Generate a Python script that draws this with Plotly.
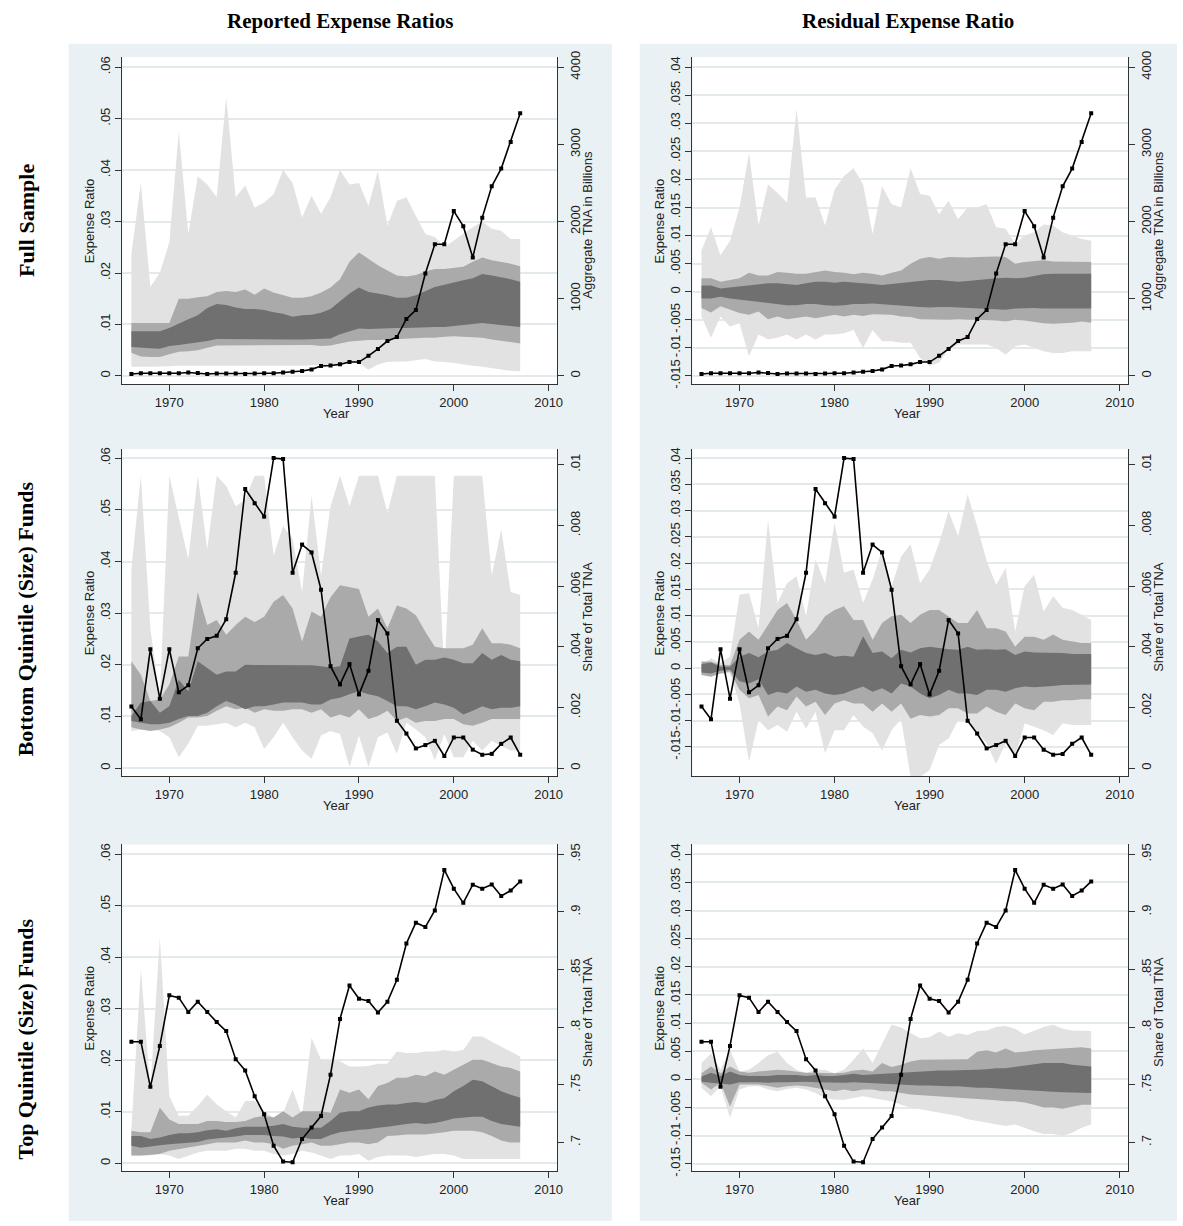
import plotly.graph_objects as go

years = list(range(1966, 2008))

# ---------------- Full sample ----------------
tna_billions = [25, 35, 35, 35, 35, 35, 45, 38, 25, 32, 32, 32, 25, 32, 35, 35, 45, 55, 65,
                85, 128, 136, 150, 180, 180, 260, 350, 452, 503, 738, 853, 1326, 1706, 1706,
                2136, 1940, 1535, 2051, 2456, 2686, 3032, 3403]

full_rep_light_hi = [.0237, .0375, .0173, .020, .026, .0475, .0276, .0388, .0372, .0347,
                     .0542, .0347, .037, .0327, .0337, .0353, .040, .0375, .0308, .035,
                     .0315, .0347, .040, .0372, .0375, .033, .0398, .0292, .034, .0347,
                     .0311, .0276, .027, .025, .0263, .0276, .0289, .030, .0286, .0282,
                     .0266, .0266]
full_rep_light_lo = [.0018, .0018, .0018, .0018, .0019, .002, .002, .002, .0021, .0021,
                     .0021, .0021, .0021, .002, .002, .002, .002, .002, .002, .002,
                     .0021, .0022, .0023, .0025, .0025, .0012, .0022, .0027, .0028, .0028,
                     .003, .0033, .0028, .0027, .0025, .0023, .002, .0018, .0015, .0013,
                     .001, .0009]
full_rep_mid_hi = [.0103, .0103, .0103, .0103, .0103, .015, .015, .0153, .0155, .0163,
                   .0165, .0163, .0168, .0158, .017, .0162, .0157, .0152, .0152, .0155,
                   .0162, .0172, .0188, .0222, .024, .0228, .0215, .0205, .0195, .0193,
                   .0196, .0203, .0208, .0208, .021, .0212, .0222, .023, .0225, .0222,
                   .0218, .0213]
full_rep_mid_lo = [.0045, .0038, .0037, .0037, .0042, .0047, .0048, .005, .0055, .0059,
                   .006, .006, .006, .006, .006, .006, .006, .006, .006, .006,
                   .0058, .0059, .0063, .0067, .0069, .007, .007, .0071, .0072, .0073,
                   .0073, .0074, .0074, .0076, .0077, .0076, .0075, .0074, .0071, .0068,
                   .0066, .0063]
full_rep_dark_hi = [.0087, .0087, .0087, .0087, .0093, .0102, .011, .0118, .0132, .014,
                    .0138, .0133, .013, .013, .0128, .0124, .0121, .0115, .0118, .0119,
                    .0123, .013, .0145, .016, .0172, .0163, .016, .0157, .0152, .0152,
                    .0157, .0165, .0173, .0177, .0182, .0186, .019, .0198, .0195, .0192,
                    .0188, .0183]
full_rep_dark_lo = [.0056, .0055, .0054, .0053, .0058, .006, .0062, .0065, .0068, .0072,
                    .0072, .0071, .0071, .0071, .0071, .0071, .0071, .0071, .0071, .0072,
                    .0072, .0073, .0081, .0087, .0092, .0091, .0091, .0092, .0093, .0093,
                    .0094, .0094, .0095, .0095, .0098, .0099, .0101, .0103, .0101, .0099,
                    .0097, .0095]

full_res_light_hi = [.0074, .0115, .0065, .0091, .015, .0247, .0118, .0191, .0176, .0159,
                     .0326, .0168, .0168, .0118, .0182, .0206, .022, .0191, .0103, .0188,
                     .0156, .015, .022, .0174, .0171, .0138, .0162, .0129, .015, .015,
                     .0156, .0115, .0112, .0085, .01, .0106, .012, .0118, .0106, .01,
                     .0094, .0091]
full_res_light_lo = [-.0044, -.0082, -.0044, -.0062, -.0056, -.0115, -.0076, -.0085, -.0082, -.0076,
                     -.0085, -.0076, -.0085, -.0076, -.0076, -.0074, -.0068, -.01, -.0068, -.0088,
                     -.0088, -.0091, -.0091, -.0118, -.0132, -.0126, -.0103, -.0094, -.0094, -.0094,
                     -.0094, -.01, -.0112, -.0097, -.0094, -.01, -.0106, -.0109, -.0109, -.0106,
                     -.0106, -.0106]
full_res_mid_hi = [.0024, .0024, .0018, .0021, .0024, .0034, .0029, .0029, .0035, .0034,
                   .0032, .0032, .0035, .0038, .0035, .0034, .0031, .0034, .0032, .0029,
                   .0034, .0038, .005, .0059, .0062, .0059, .0062, .0061, .0061, .0062,
                   .0063, .0063, .0062, .005, .0053, .0054, .0056, .0054, .0054, .0053,
                   .0053, .0053]
full_res_mid_lo = [-.0029, -.0037, -.0026, -.0032, -.0038, -.0041, -.0035, -.0049, -.0044, -.0049,
                   -.0047, -.0044, -.0047, -.0044, -.0041, -.0044, -.0041, -.0043, -.004, -.0041,
                   -.0041, -.0044, -.0045, -.0049, -.005, -.005, -.005, -.0049, -.005, -.005,
                   -.005, -.0051, -.0053, -.005, -.0051, -.0053, -.0056, -.0057, -.0056, -.0055,
                   -.0053, -.0055]
full_res_dark_hi = [.0011, .0011, .0006, .0008, .0009, .0011, .0014, .0015, .0015, .0014,
                    .0012, .0015, .0018, .0018, .0016, .0018, .0016, .0015, .0014, .0012,
                    .0014, .0016, .0018, .0019, .0021, .0021, .0019, .0018, .0019, .0021,
                    .0022, .0024, .0025, .0024, .0025, .0028, .0031, .0032, .0032, .0032,
                    .0032, .0032]
full_res_dark_lo = [-.0012, -.0012, -.0009, -.0012, -.0014, -.0016, -.0019, -.0021, -.0022, -.0024,
                    -.0024, -.0022, -.0022, -.0024, -.0025, -.0024, -.0022, -.0022, -.0021, -.0022,
                    -.0024, -.0025, -.0026, -.0027, -.0028, -.0027, -.0027, -.0028, -.0029, -.0029,
                    -.003, -.0031, -.0032, -.003, -.0029, -.0029, -.003, -.0031, -.0031, -.0031,
                    -.003, -.003]

# ---------------- Bottom quintile ----------------
share_bottom = [.00203, .00161, .00392, .00229, .00392, .0025, .00273, .00395, .00426, .00436,
                .00491, .00644, .0092, .00873, .00829, .01022, .01019, .00644, .00737, .00711,
                .00588, .00336, .00276, .00343, .00243, .00321, .00488, .00444, .00156, .00114,
                .00065, .00076, .0009, .0004, .00101, .00101, .00061, .00044, .00047, .0008,
                .00101, .00044]

bot_rep_light_hi = [.0386, .0566, .027, .0136, .0566, .0488, .0405, .0566, .0424, .0566,
                    .0546, .0507, .052, .0566, .0566, .0411, .0469, .0443, .0341, .0528,
                    .0373, .0507, .0566, .0507, .0566, .0566, .0566, .0494, .0566, .0566,
                    .0566, .0566, .0566, .0181, .0566, .0566, .0566, .0566, .0373, .0462,
                    .0341, .0335]
bot_rep_light_lo = [.0072, .0075, .0075, .0072, .006, .0021, .0047, .0082, .0082, .0085,
                    .0088, .0079, .0088, .0079, .0037, .006, .0088, .006, .0034, .0018,
                    .0063, .0072, .0066, .0002, .0063, .0002, .006, .0069, .0028, .0088,
                    .0075, .006, .0015, .0066, .0021, .0021, .0053, .0034, .0053, .0043,
                    .0034, .0034]
bot_rep_mid_hi = [.0207, .0181, .013, .0133, .0162, .0216, .0216, .0341, .0277, .0287,
                  .0258, .0277, .0293, .0283, .0293, .0322, .0335, .0309, .0245, .0303,
                  .0293, .0331, .0354, .0351, .0347, .0293, .0309, .0271, .0315, .0309,
                  .0296, .0264, .0235, .0232, .0232, .0232, .0239, .0271, .0242, .0242,
                  .0239, .0232]
bot_rep_mid_lo = [.0079, .0075, .0072, .0075, .0079, .0088, .0098, .0098, .0101, .0111,
                  .012, .0114, .0117, .0107, .0114, .0111, .0111, .0114, .0114, .0107,
                  .0114, .0098, .0104, .0098, .0114, .0095, .0101, .0111, .0091, .0098,
                  .0088, .0091, .0091, .0095, .0095, .0085, .0082, .0088, .0095, .0095,
                  .0095, .0095]
bot_rep_dark_hi = [.0101, .0127, .013, .0107, .012, .0171, .0149, .0207, .0194, .0181,
                   .0187, .0187, .02, .02, .02, .02, .02, .0199, .0199, .0199,
                   .0197, .0195, .0197, .0251, .0255, .0258, .0245, .0223, .0235, .0235,
                   .02, .021, .021, .0214, .021, .0203, .0203, .0223, .021, .0219,
                   .021, .0207]
bot_rep_dark_lo = [.0091, .0088, .0085, .0085, .0088, .0095, .0101, .0101, .0107, .012,
                   .013, .0123, .0114, .012, .012, .0123, .0127, .0127, .0127, .0123,
                   .0123, .0133, .0136, .0143, .0149, .0143, .0139, .013, .012, .012,
                   .0114, .012, .0127, .0123, .0117, .0104, .0111, .012, .0114, .0117,
                   .0117, .012]

bot_res_light_hi = [.0006, .0019, .001, .0022, .014, .0143, .0076, .0283, .0124, .0162,
                    .0175, .0099, .0207, .0162, .0277, .0182, .0188, .0124, .0169, .0226,
                    .0156, .0213, .0236, .0162, .0188, .0239, .0299, .0252, .0331, .0271,
                    .0204, .0159, .0191, .007, .0156, .0178, .0108, .0137, .0115, .0111,
                    .0102, .0092]
bot_res_light_lo = [-.001, -.001, -.001, -.001, -.0067, -.0178, -.0099, -.0118, -.0108, -.0121,
                    -.0083, -.0115, -.0083, -.0162, -.0118, -.0118, -.0089, -.0111, -.0124, -.0156,
                    -.0118, -.0096, -.0207, -.0207, -.0194, -.0146, -.0134, -.0099, -.0099, -.0121,
                    -.0143, -.0182, -.0143, -.0169, -.0105, -.0111, -.0118, -.0127, -.0105, -.0108,
                    -.0108, -.0108]
bot_res_mid_hi = [.0013, .0013, .0006, .0006, .0054, .007, .0054, .0083, .0111, .0124,
                  .0092, .0054, .0073, .0099, .0111, .0118, .0092, .0092, .0054, .0086,
                  .0099, .0102, .0086, .0102, .0111, .0111, .0099, .0086, .0086, .0111,
                  .0076, .0076, .007, .0041, .006, .006, .0054, .0064, .0054, .0051,
                  .0048, .0048]
bot_res_mid_lo = [-.0013, -.0016, -.001, -.0006, -.0041, -.0057, -.0051, -.0092, -.0073, -.008,
                  -.0054, -.0073, -.0064, -.0089, -.0067, -.0061, -.0067, -.0067, -.0083, -.0067,
                  -.0083, -.0067, -.0096, -.0089, -.0092, -.0089, -.0076, -.0076, -.0086, -.0086,
                  -.0073, -.0083, -.0089, -.0067, -.0076, -.008, -.0064, -.0064, -.0061, -.0061,
                  -.0059, -.0059]
bot_res_dark_hi = [.0008, .0011, .0003, .0003, .0022, .0029, .0021, .0032, .0035, .0048,
                   .0038, .0029, .0025, .0029, .0022, .0024, .0022, .0061, .0029, .0032,
                   .0019, .0035, .003, .0038, .0041, .0038, .0036, .0035, .0041, .0035,
                   .0036, .0035, .0036, .0025, .0032, .003, .003, .0029, .0029, .0027,
                   .0027, .0027]
bot_res_dark_lo = [-.0008, -.001, -.0005, -.0003, -.0025, -.0029, -.0021, -.0051, -.0045, -.0048,
                   -.0035, -.0045, -.0041, -.0048, -.0051, -.0048, -.0041, -.0035, -.0045, -.0038,
                   -.0048, -.0029, -.0035, -.0048, -.0057, -.0051, -.0041, -.0048, -.0048, -.0051,
                   -.0041, -.0041, -.0045, -.0038, -.0035, -.0036, -.0035, -.0034, -.0032, -.0032,
                   -.0031, -.0031]

# ---------------- Top quintile ----------------
share_top = [.7874, .7874, .7482, .7837, .8276, .8256, .8132, .8221, .8132, .8044,
             .7966, .7722, .7625, .7401, .7244, .6971, .6834, .6828, .7029, .7129,
             .7229, .7588, .8072, .8362, .8247, .8227, .8127, .8221, .8411, .8726,
             .8907, .8869, .9013, .9365, .9202, .9079, .9236, .9202, .9239, .9139,
             .9185, .9265]

top_rep_light_hi = [.0066, .0377, .0143, .0438, .013, .0092, .0092, .0111, .0133, .0114,
                    .0101, .0089, .0121, .0121, .0101, .0089, .0098, .0143, .0092, .0243,
                    .0201, .0201, .0198, .0188, .0188, .0189, .0193, .0193, .0217, .0214,
                    .0214, .0217, .0217, .022, .0217, .022, .0246, .0246, .0236, .0227,
                    .0217, .0207]
top_rep_light_lo = [.0015, .0015, .0015, .0018, .0015, .0008, .0015, .0021, .0024, .0024,
                    .0024, .0028, .0028, .0024, .0024, .0018, .0015, .0018, .0024, .0021,
                    .0015, .0008, .0015, .0015, .0018, .0005, .0012, .0015, .0015, .0015,
                    .0012, .0015, .0018, .0018, .0015, .0008, .0008, .0008, .0008, .0008,
                    .0008, .0008]
top_rep_mid_hi = [.0063, .006, .006, .0108, .0085, .0076, .0076, .0076, .0082, .0082,
                  .008, .008, .0082, .0089, .0092, .0089, .0101, .0089, .0101, .0101,
                  .0101, .0098, .0143, .0137, .0143, .0124, .015, .0156, .0166, .0166,
                  .0172, .0169, .0178, .0172, .0182, .0191, .0201, .0201, .0194, .0188,
                  .0185, .0178]
top_rep_mid_lo = [.0015, .0015, .0016, .0018, .0024, .0028, .0031, .0034, .0037, .004,
                  .004, .004, .0044, .004, .004, .0037, .0028, .0034, .0037, .004,
                  .0034, .0034, .0037, .004, .004, .0037, .004, .0053, .0054, .0056,
                  .0056, .0056, .0058, .006, .0063, .0063, .0063, .006, .0053, .0044,
                  .004, .004]
top_rep_dark_hi = [.0053, .0053, .0047, .005, .0055, .0058, .0058, .006, .0064, .0066,
                   .0063, .0068, .0071, .0071, .0071, .0073, .0076, .0071, .0069, .0069,
                   .0069, .0082, .0098, .0101, .0101, .0108, .0112, .0114, .0114, .0117,
                   .0119, .0117, .0123, .0126, .014, .015, .0162, .0159, .015, .014,
                   .0133, .0127]
top_rep_dark_lo = [.0034, .003, .0033, .0035, .0037, .0038, .004, .0041, .0046, .0048,
                   .005, .0052, .0055, .0055, .0055, .0053, .0052, .0048, .005, .0047,
                   .0047, .0055, .006, .0063, .0065, .0066, .0069, .0071, .0073, .0076,
                   .0078, .0076, .0078, .0082, .0087, .0089, .009, .009, .0082, .0076,
                   .0073, .0071]

top_res_light_hi = [.0029, .0046, .0017, .0052, .0014, .0017, .0029, .0043, .0049, .0029,
                    .0017, .0011, .0017, .0017, .0011, .0017, .0035, .0055, .0029, .0064,
                    .0097, .0092, .0082, .0073, .0075, .0085, .0076, .0082, .0079, .0086,
                    .0087, .0093, .0095, .009, .008, .0087, .0093, .0097, .009, .0087,
                    .0087, .0086]
top_res_light_lo = [-.0015, -.003, -.0012, -.0068, -.0018, -.0012, -.0012, -.0018, -.0021, -.0017,
                    -.0015, -.0018, -.0024, -.0033, -.0036, -.0036, -.0033, -.003, -.0033, -.0036,
                    -.0039, -.0045, -.005, -.0053, -.0056, -.0059, -.0062, -.0065, -.0071, -.0074,
                    -.0077, -.008, -.0083, -.008, -.0086, -.0092, -.0097, -.0097, -.01, -.0095,
                    -.0086, -.008]
top_res_mid_hi = [.0011, .0023, .0011, .0023, .0014, .0012, .0014, .0016, .0017, .0016,
                  .0014, .0012, .0012, .0011, .0011, .0012, .0016, .0017, .0014, .0029,
                  .0022, .0026, .0032, .0035, .0035, .0035, .0035, .0035, .0036, .0049,
                  .0052, .0048, .0055, .0048, .0049, .0052, .0053, .0054, .0055, .0056,
                  .0057, .0055]
top_res_mid_lo = [-.0006, -.0018, -.0006, -.0048, -.0009, -.0009, -.0009, -.0012, -.0015, -.0012,
                  -.0011, -.0012, -.0015, -.0018, -.0021, -.0018, -.0021, -.0018, -.0018, -.0021,
                  -.0021, -.0024, -.0027, -.0028, -.003, -.003, -.0031, -.0033, -.0033, -.0035,
                  -.0036, -.0037, -.0039, -.0039, -.0041, -.0045, -.005, -.005, -.0052, -.0048,
                  -.0045, -.0045]
top_res_dark_hi = [.0005, .0012, .0006, .0014, .0008, .0006, .0006, .0006, .0008, .0008,
                   .0008, .0006, .0008, .0006, .0006, .0008, .001, .0008, .0009, .001,
                   .0012, .0012, .0013, .0015, .0015, .0016, .0016, .0016, .0016, .0017,
                   .0018, .002, .002, .0022, .0024, .0027, .0029, .0029, .0029, .0026,
                   .0024, .0023]
top_res_dark_lo = [-.0004, -.0006, -.0008, -.0009, -.0005, -.0005, -.0005, -.0006, -.0005, -.0005,
                   -.0005, -.0004, -.0005, -.0005, -.0006, -.0006, -.0005, -.0005, -.0006, -.0008,
                   -.0009, -.001, -.001, -.0011, -.0011, -.0011, -.0012, -.0012, -.0013, -.0015,
                   -.0015, -.0016, -.0016, -.0017, -.0018, -.0019, -.0021, -.0022, -.0023, -.0023,
                   -.0024, -.0024]

# ---------------- Tick labels / text ----------------
x_ticks = [1970, 1980, 1990, 2000, 2010]
rep_ticks = [0, .01, .02, .03, .04, .05, .06]
rep_ticktext = ["0", ".01", ".02", ".03", ".04", ".05", ".06"]
res_ticks = [-.015, -.01, -.005, 0, .005, .01, .015, .02, .025, .03, .035, .04]
res_ticktext = ["-.015", "-.01", "-.005", "0", ".005", ".01", ".015", ".02", ".025", ".03", ".035", ".04"]
tna_ticks = [0, 1000, 2000, 3000, 4000]
tna_ticktext = ["0", "1000", "2000", "3000", "4000"]
bshare_ticks = [0, .002, .004, .006, .008, .01]
bshare_ticktext = ["0", ".002", ".004", ".006", ".008", ".01"]
tshare_ticks = [.7, .75, .8, .85, .9, .95]
tshare_ticktext = [".7", ".75", ".8", ".85", ".9", ".95"]

col_titles = ["Reported Expense Ratios", "Residual Expense Ratio"]
row_titles = ["Full Sample", "Bottom Quintile (Size) Funds", "Top Quintile (Size) Funds"]
right_titles = ["Aggregate TNA in Billions", "Share of Total TNA", "Share of Total TNA"]

# ---------------- Geometry (pixels) ----------------
W, H = 1183, 1226
col_px = [(123, 560), (696, 1134)]
row_px = [(51.7, 381.7), (447.3, 777.3), (846.0, 1176.0)]
bg_px = [(69, 615), (643, 1183)]
BG_TOP = 38
x_range = [1965.05, 2010.9]

left_ranges = {
    (0, 0): [-.00162, .06193], (0, 1): [-.01648, .04177],
    (1, 0): [-.00159, .06173], (1, 1): [-.02059, .0417],
    (2, 0): [-.0016, .06192], (2, 1): [-.01636, .04176],
}
right_ranges = [[-108, 4129], [-.00027, .01051], [.6748, .9586]]

LIGHT = "rgb(226,226,226)"
MID = "rgb(170,170,170)"
DARK = "rgb(112,112,112)"
BG = "rgb(234,241,244)"
GRID = "rgb(226,234,238)"
AXC = "#333333"
TXT = "#222222"
FONT = "Liberation Sans, Arial, sans-serif"
TFS = 13

panels = {
    (0, 0): [(full_rep_light_lo, full_rep_light_hi), (full_rep_mid_lo, full_rep_mid_hi), (full_rep_dark_lo, full_rep_dark_hi)],
    (0, 1): [(full_res_light_lo, full_res_light_hi), (full_res_mid_lo, full_res_mid_hi), (full_res_dark_lo, full_res_dark_hi)],
    (1, 0): [(bot_rep_light_lo, bot_rep_light_hi), (bot_rep_mid_lo, bot_rep_mid_hi), (bot_rep_dark_lo, bot_rep_dark_hi)],
    (1, 1): [(bot_res_light_lo, bot_res_light_hi), (bot_res_mid_lo, bot_res_mid_hi), (bot_res_dark_lo, bot_res_dark_hi)],
    (2, 0): [(top_rep_light_lo, top_rep_light_hi), (top_rep_mid_lo, top_rep_mid_hi), (top_rep_dark_lo, top_rep_dark_hi)],
    (2, 1): [(top_res_light_lo, top_res_light_hi), (top_res_mid_lo, top_res_mid_hi), (top_res_dark_lo, top_res_dark_hi)],
}
row_lines = [tna_billions, share_bottom, share_top]
right_ticks = [(tna_ticks, tna_ticktext), (bshare_ticks, bshare_ticktext), (tshare_ticks, tshare_ticktext)]


def fx(p):
    return p / W


def fy(p):
    return 1 - p / H


fig = go.Figure()
shapes = []
annotations = []

for (x0, x1) in bg_px:
    shapes.append(dict(type="rect", xref="paper", yref="paper", x0=fx(x0), x1=fx(x1),
                       y0=fy(H), y1=fy(BG_TOP), fillcolor=BG, line=dict(width=0), layer="below"))

layout = dict(
    width=W, height=H, margin=dict(l=0, r=0, t=0, b=0),
    paper_bgcolor="white", plot_bgcolor="rgba(0,0,0,0)", showlegend=False,
    font=dict(family=FONT, size=TFS, color=TXT),
)

colors = [LIGHT, MID, DARK]
for r in range(3):
    for c in range(2):
        idx = r * 2 + c + 1
        ridx = idx + 6
        xs = "" if idx == 1 else str(idx)
        xname, yname, y2name = "x" + xs, "y" + xs, "y" + str(ridx)
        x0p, x1p = col_px[c]
        t, b = row_px[r]
        shapes.append(dict(type="rect", xref="paper", yref="paper", x0=fx(x0p), x1=fx(x1p),
                           y0=fy(b), y1=fy(t), fillcolor="white", line=dict(width=0), layer="below"))
        for (lo, hi), col in zip(panels[(r, c)], colors):
            fig.add_trace(go.Scatter(
                x=years + years[::-1], y=list(hi) + list(lo)[::-1],
                fill="toself", fillcolor=col, mode="lines", line=dict(width=0, color=col),
                hoverinfo="skip", xaxis=xname, yaxis=yname))
        fig.add_trace(go.Scatter(
            x=years, y=row_lines[r], mode="lines+markers",
            line=dict(color="black", width=1.6),
            marker=dict(symbol="square", size=4, color="black"),
            xaxis=xname, yaxis=y2name))

        if c == 0:
            lt, ltt = rep_ticks, rep_ticktext
        else:
            lt, ltt = res_ticks, res_ticktext
        rt, rtt = right_ticks[r]
        tf = dict(size=TFS, family=FONT, color=TXT)

        layout["xaxis" + xs] = dict(
            domain=[fx(x0p), fx(x1p)], anchor=yname, range=x_range,
            tickvals=x_ticks, ticks="outside", ticklen=6, tickcolor=AXC,
            showline=True, linecolor=AXC, linewidth=1, showgrid=False, zeroline=False,
            tickfont=tf)
        layout["yaxis" + xs] = dict(
            domain=[fy(b), fy(t)], anchor=xname, range=left_ranges[(r, c)],
            tickvals=lt, ticktext=ltt, tickangle=-90, ticks="outside", ticklen=6,
            tickcolor=AXC, showline=True, linecolor=AXC, linewidth=1,
            showgrid=True, gridcolor=GRID, gridwidth=1.5, zeroline=False,
            tickfont=tf)
        layout["yaxis" + str(ridx)] = dict(
            overlaying=yname, anchor=xname, side="right", range=right_ranges[r],
            tickvals=rt, ticktext=rtt, tickangle=-90, ticks="outside", ticklen=6,
            tickcolor=AXC, showline=True, linecolor=AXC, linewidth=1,
            showgrid=False, zeroline=False, tickfont=tf)

        midy = (t + b) / 2
        annotations.append(dict(text="Expense Ratio", xref="paper", yref="paper",
                                x=fx(x0p - 33), y=fy(midy), textangle=-90, showarrow=False,
                                font=dict(size=TFS, family=FONT, color=TXT),
                                xanchor="center", yanchor="middle"))
        annotations.append(dict(text=right_titles[r], xref="paper", yref="paper",
                                x=fx(x1p + 31), y=fy(midy + 4), textangle=-90, showarrow=False,
                                font=dict(size=TFS, family=FONT, color=TXT),
                                xanchor="center", yanchor="middle"))
        annotations.append(dict(text="Year", xref="paper", yref="paper",
                                x=fx((x0p + x1p) / 2 - 3), y=fy(b + 29), showarrow=False,
                                font=dict(size=TFS, family=FONT, color=TXT),
                                xanchor="center", yanchor="middle"))

for c, txt in enumerate(col_titles):
    cx = (bg_px[c][0] + bg_px[c][1]) / 2
    annotations.append(dict(text="<b>" + txt + "</b>", xref="paper", yref="paper",
                            x=fx(cx), y=fy(15), showarrow=False,
                            font=dict(size=21, family="Liberation Serif, Times New Roman, serif", color="black"),
                            xanchor="center", yanchor="middle"))
row_centers = [216, 618, 1042]
for r, txt in enumerate(row_titles):
    annotations.append(dict(text="<b>" + txt + "</b>", xref="paper", yref="paper",
                            x=fx(26), y=fy(row_centers[r]), textangle=-90, showarrow=False,
                            font=dict(size=22, family="Liberation Serif, Times New Roman, serif", color="black"),
                            xanchor="center", yanchor="middle"))

layout["shapes"] = shapes
layout["annotations"] = annotations
fig.update_layout(**layout)

fig.write_html("out.html", config={"displayModeBar": False},
               post_script="document.body.style.margin='0';document.body.style.overflow='hidden';")
